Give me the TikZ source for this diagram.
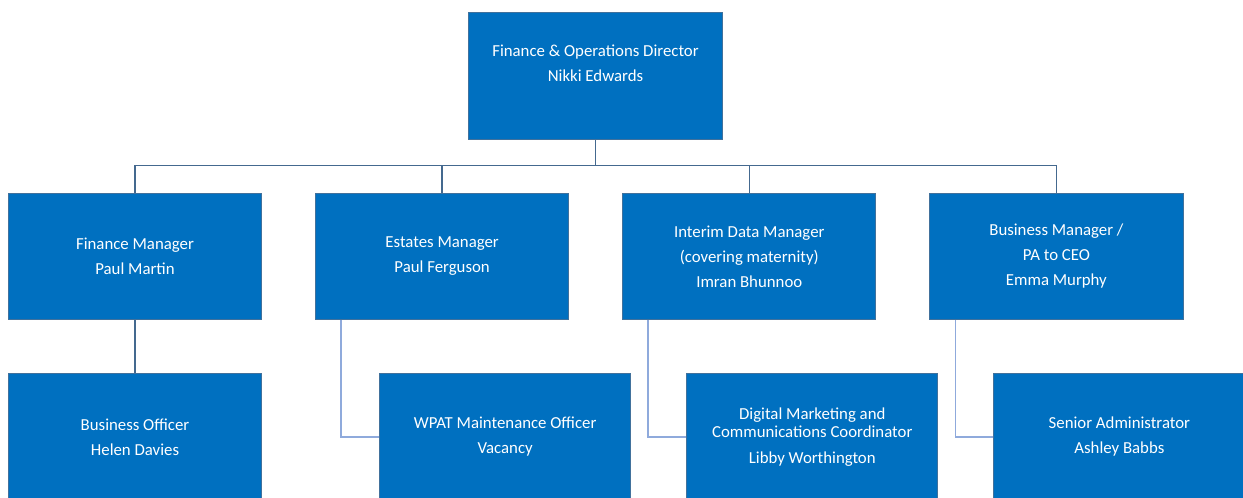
\documentclass[tikz,border=0pt]{standalone}
\usepackage{fontspec}
\setmainfont{Carlito}
\usepackage{xcolor}
\usepackage{tikz}
\usetikzlibrary{positioning}

\definecolor{boxblue}{HTML}{0070C0}
\definecolor{boxedge}{HTML}{41719C}
\definecolor{linedark}{HTML}{44698F}
\definecolor{linelight}{HTML}{8FAADC}

\begin{document}
\begin{tikzpicture}[
    x=0.75pt, y=-0.75pt,
    post/.style={rectangle, draw=boxedge, line width=0.75pt, fill=boxblue,
        text=white, minimum width=190pt, minimum height=95pt,
        inner sep=2pt, align=center, font=\fontsize{12.6}{18.75}\selectfont},
    staff/.style={post, minimum width=188.5pt},
    link/.style={draw=linedark, line width=1pt},
    sublink/.style={draw=linelight, line width=1pt},
    node distance=39.6pt
]
\useasboundingbox (0,0) rectangle (1243,497);
\clip (0,0) rectangle (1243,497);

\node[post, minimum width=191pt, minimum height=95.5pt] (director) at (595.5,76)
    {Finance \& Operations Director\\Nikki Edwards\\~};

% managers
\node[post] (finmgr) at (135,256.5) {Finance Manager\\Paul Martin};
\node[post, right=of finmgr] (estmgr) {Estates Manager\\Paul Ferguson};
\node[post, right=of estmgr] (datamgr) {Interim Data Manager\\(covering maternity)\\Imran Bhunnoo};
\node[post, right=of datamgr] (busmgr) {Business Manager /\\PA to CEO\\Emma Murphy};

% staff
\node[post, below=of finmgr] (busoff) {Business Officer\\Helen Davies};
\node[staff, below=of estmgr, xshift=47.25pt] (wpat) {WPAT Maintenance Officer\\Vacancy};
\node[staff, below=of datamgr, xshift=47.25pt, font=\fontsize{12.6}{13.5}\selectfont] (digital)
    {Digital Marketing and\\Communications Coordinator\\[6pt]Libby Worthington};
\node[staff, below=of busmgr, xshift=47.25pt] (senadmin) {Senior Administrator\\Ashley Babbs};

\coordinate (bus) at ([yshift=-18.75pt]director.south);
\draw[link] (director) -- (bus);
\foreach \n in {finmgr,estmgr,datamgr,busmgr}
    \draw[link] (bus) -| (\n.north);
\draw[link] (finmgr) -- (busoff);

\draw[sublink] ([xshift=19.5pt]estmgr.south west) |- (wpat);
\draw[sublink] ([xshift=19.5pt]datamgr.south west) |- (digital);
\draw[sublink] ([xshift=19.5pt]busmgr.south west) |- (senadmin);
\end{tikzpicture}
\end{document}
